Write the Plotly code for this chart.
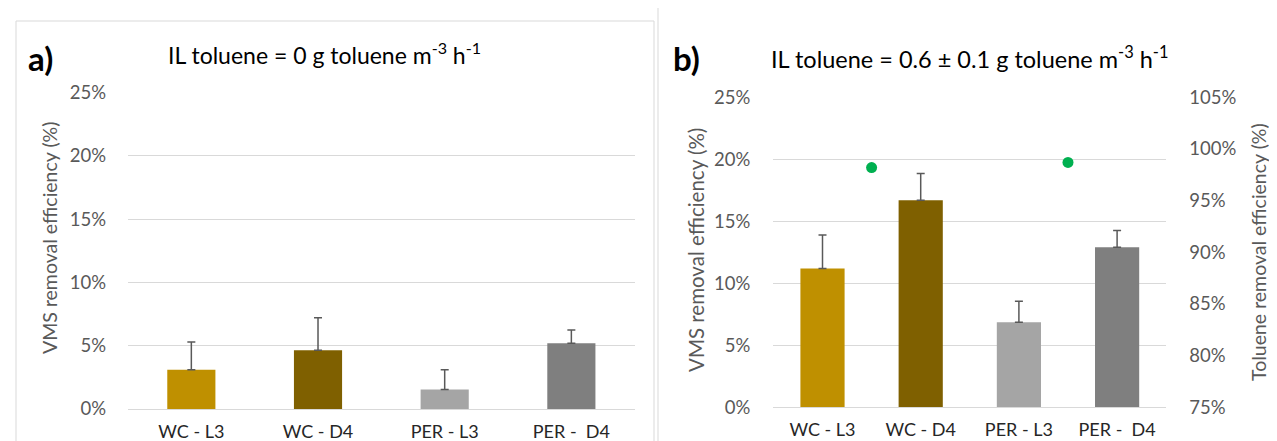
import plotly.graph_objects as go

W, H = 1277, 441

categories = ["WC - L3", "WC - D4", "PER - L3", "PER -  D4"]
bar_colors = ["#BF9000", "#7F6000", "#A5A5A5", "#7F7F7F"]

# Panel a: IL toluene = 0
vms_a = [3.1, 4.65, 1.55, 5.2]
vms_a_err = [2.2, 2.55, 1.55, 1.05]

# Panel b: IL toluene = 0.6
vms_b = [11.2, 16.7, 6.85, 12.9]
vms_b_err = [2.7, 2.15, 1.7, 1.35]

# Toluene removal efficiency (right axis), one per support material
tol_x = [0.5, 2.5]
tol_b = [98.2, 98.7]

yticks_left = [0, 5, 10, 15, 20, 25]
yticks_right = [75, 80, 85, 90, 95, 100, 105]

FONT = "Lato, Open Sans, sans-serif"
TICKC = "#595959"
GRID = "#D9D9D9"

def px(x):
    return x / W

def py(y):
    return 1 - y / H

xpos = list(range(len(categories)))

fig = go.Figure()

fig.add_trace(go.Bar(
    x=xpos, y=vms_a, marker=dict(color=bar_colors, line=dict(width=0)),
    width=0.38, xaxis="x", yaxis="y",
    error_y=dict(type="data", array=vms_a_err, arrayminus=[0]*4, symmetric=False,
                 color="#595959", thickness=1.5, width=4),
    showlegend=False))

fig.add_trace(go.Bar(
    x=xpos, y=vms_b, marker=dict(color=bar_colors, line=dict(width=0)),
    width=0.45, xaxis="x2", yaxis="y2",
    error_y=dict(type="data", array=vms_b_err, arrayminus=[0]*4, symmetric=False,
                 color="#595959", thickness=1.5, width=4),
    showlegend=False))

fig.add_trace(go.Scatter(
    x=tol_x, y=tol_b, mode="markers", xaxis="x2", yaxis="y3",
    marker=dict(color="#00B050", size=11), showlegend=False))

tickfont = dict(family=FONT, size=18.5, color=TICKC)

common_x = dict(range=[-0.5, 3.5], tickmode="array", tickvals=xpos, ticktext=categories,
                showgrid=False, zeroline=False, showline=True, linecolor=GRID, linewidth=1,
                ticks="", tickfont=dict(family=FONT, size=18, color="#262626"),
                ticklabelstandoff=6, automargin=False, fixedrange=True)
common_y = dict(range=[0, 25], tickmode="array", tickvals=yticks_left,
                ticktext=[f"{v}%" for v in yticks_left],
                showgrid=True, gridcolor=GRID, gridwidth=1, zeroline=False, showline=False,
                ticks="", tickfont=tickfont, automargin=False, fixedrange=True)

fig.update_layout(
    width=W, height=H,
    margin=dict(l=0, r=0, t=0, b=0),
    paper_bgcolor="white", plot_bgcolor="white",
    bargap=0.5,
    xaxis=dict(domain=[px(120), px(626.7)], anchor="y", **common_x),
    yaxis=dict(domain=[py(401), py(84.5)], anchor="x", ticklabelstandoff=21, **common_y),
    xaxis2=dict(domain=[px(765.4), px(1158.2)], anchor="y2", **common_x),
    yaxis2=dict(domain=[py(399.3), py(89.3)], anchor="x2", ticklabelstandoff=22, **common_y),
    yaxis3=dict(range=[75, 105], tickmode="array", tickvals=yticks_right,
                ticktext=[f"{v}%" for v in yticks_right], overlaying="y2", side="right",
                anchor="x2", showgrid=False, zeroline=False, showline=False, ticks="",
                tickfont=tickfont, ticklabelstandoff=22, automargin=False, fixedrange=True),
    shapes=[
        dict(type="rect", xref="paper", yref="paper", x0=px(8), x1=px(646), y0=py(460), y1=py(13),
             line=dict(color=GRID, width=1), fillcolor="rgba(0,0,0,0)", layer="below"),
        dict(type="line", xref="paper", yref="paper", x0=px(650), x1=px(650), y0=0, y1=1,
             line=dict(color=GRID, width=1)),
    ],
    annotations=[
        dict(text="<b>a)</b>", xref="paper", yref="paper", x=px(18), y=py(50), xanchor="left",
             yanchor="middle", showarrow=False, font=dict(family=FONT, size=33, color="black")),
        dict(text="IL toluene = 0 g toluene m<sup>-3</sup> h<sup>-1</sup>", xref="paper", yref="paper",
             x=px(158), y=py(45), xanchor="left", yanchor="middle", showarrow=False,
             font=dict(family=FONT, size=23, color="black")),
        dict(text="<b>b)</b>", xref="paper", yref="paper", x=px(663), y=py(50), xanchor="left",
             yanchor="middle", showarrow=False, font=dict(family=FONT, size=33, color="black")),
        dict(text="IL toluene = 0.6 ± 0.1 g toluene m<sup>-3</sup> h<sup>-1</sup>", xref="paper",
             yref="paper", x=px(761), y=py(50), xanchor="left", yanchor="middle", showarrow=False,
             font=dict(family=FONT, size=23.5, color="black")),
        dict(text="VMS removal efficiency (%)", xref="paper", yref="paper", x=px(41), y=py(230),
             textangle=-90, xanchor="center", yanchor="middle", showarrow=False,
             font=dict(family=FONT, size=19.5, color=TICKC)),
        dict(text="VMS removal efficiency (%)", xref="paper", yref="paper", x=px(688), y=py(242),
             textangle=-90, xanchor="center", yanchor="middle", showarrow=False,
             font=dict(family=FONT, size=20.5, color=TICKC)),
        dict(text="Toluene removal efficiency (%)", xref="paper", yref="paper", x=px(1250), y=py(244),
             textangle=-90, xanchor="center", yanchor="middle", showarrow=False,
             font=dict(family=FONT, size=19.5, color=TICKC)),
    ],
)

fig.write_html("out.html")
